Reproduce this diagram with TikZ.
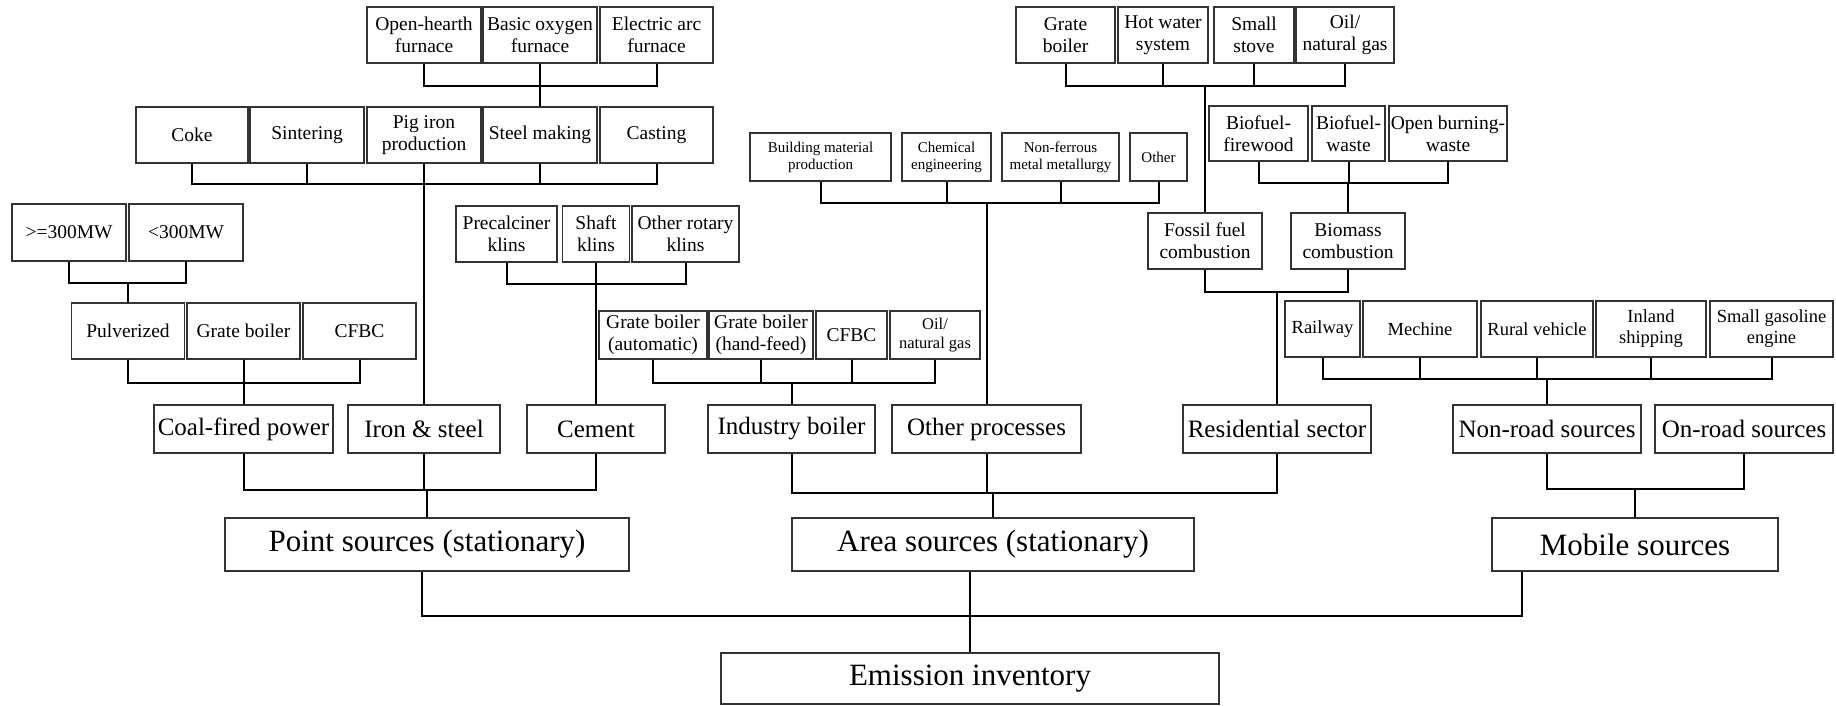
\documentclass[tikz,border=0pt]{standalone}
\usepackage{fontspec}
\setmainfont{Liberation Serif}
\usepackage{tikz}
\tikzset{box/.style={draw=black!80,line width=1.3pt,inner sep=0pt,align=center,fill=white},
 srcbox/.style={box,font=\fontsize{31}{34}\selectfont},
 catbox/.style={box,font=\fontsize{25}{28}\selectfont},
 subbox/.style={box,font=\fontsize{19.5}{22}\selectfont},
 mobbox/.style={box,font=\fontsize{18.5}{21}\selectfont},
 smallbox/.style={box,font=\fontsize{15}{17}\selectfont},
 link/.style={draw=black,line width=2pt},
 thinlink/.style={draw=black,line width=1.4pt}}

\begin{document}
\begin{tikzpicture}[x=1pt,y=-1pt]
\useasboundingbox (0,0) rectangle (1836,705);
% iron & steel:
 \node[subbox,minimum width=114,minimum height=56] (ohf) at (424,35) {Open-hearth\\furnace};
 \node[subbox,minimum width=114,minimum height=56] (bof) at (540,35) {Basic oxygen\\furnace};
 \node[subbox,minimum width=113,minimum height=56] (eaf) at (656.5,35) {Electric arc\\furnace};
 \node[subbox,minimum width=112,minimum height=56] (coke) at (192,135) {Coke};
 \node[subbox,minimum width=114,minimum height=56] (sinter) at (307,135) {Sintering};
 \node[subbox,minimum width=114,minimum height=56] (pigiron) at (424,135) {Pig iron\\production};
 \node[subbox,minimum width=114,minimum height=56] (steel) at (540,135) {Steel making};
 \node[subbox,minimum width=113,minimum height=56] (casting) at (656.5,135) {Casting};
% coal-fired power:
 \node[subbox,minimum width=114,minimum height=57] (mwa) at (69,232.5) {>=300MW};
 \node[subbox,minimum width=114,minimum height=57] (mwb) at (186,232.5) {<300MW};
 \node[subbox,minimum width=113,minimum height=56] (pulv) at (128,331) {Pulverized};
 \node[subbox,minimum width=113,minimum height=56] (grate) at (243.5,331) {Grate boiler};
 \node[subbox,minimum width=113,minimum height=56] (cfbc) at (359.5,331) {CFBC};
% cement:
 \node[subbox,minimum width=101,minimum height=56] (precal) at (506.5,234) {Precalciner\\klins};
 \node[subbox,minimum width=67,minimum height=56] (shaft) at (596,234) {Shaft\\klins};
 \node[subbox,minimum width=107,minimum height=56] (rotary) at (685.5,234) {Other rotary\\klins};
% industry boiler:
 \node[subbox,minimum width=108,minimum height=48] (gbauto) at (653,335) {Grate boiler\\(automatic)};
 \node[subbox,minimum width=104,minimum height=48] (gbhand) at (761,335) {Grate boiler\\(hand-feed)};
 \node[subbox,minimum width=71,minimum height=48] (icfbc) at (851.5,335) {CFBC};
 \node[box,font=\fontsize{16.5}{19}\selectfont,minimum width=90,minimum height=48] (ioil) at (935,335) {Oil/\\natural gas};
% other processes:
 \node[smallbox,minimum width=141,minimum height=48] (bmp) at (820.5,157) {Building material\\production};
 \node[smallbox,minimum width=89,minimum height=48] (chem) at (946.5,157) {Chemical\\engineering};
 \node[smallbox,minimum width=117,minimum height=48] (nonfer) at (1060.5,157) {Non-ferrous\\metal metallurgy};
 \node[smallbox,minimum width=57,minimum height=48] (oth) at (1158.5,157) {Other};
% residential:
 \node[subbox,minimum width=99,minimum height=56] (rgrate) at (1065.5,35) {Grate\\boiler};
 \node[subbox,minimum width=90,minimum height=56] (hotw) at (1163,35) {Hot water\\system};
 \node[subbox,minimum width=80,minimum height=56] (stove) at (1254,35) {Small\\stove};
 \node[subbox,minimum width=98,minimum height=56] (roil) at (1345,35) {Oil/\\natural gas};
 \node[subbox,minimum width=99,minimum height=55] (bfw) at (1258.5,133.5) {Biofuel-\\firewood};
 \node[subbox,minimum width=73,minimum height=55] (bws) at (1348.5,133.5) {Biofuel-\\waste};
 \node[subbox,minimum width=118,minimum height=55] (obw) at (1448,133.5) {Open burning-\\waste};
 \node[subbox,minimum width=114,minimum height=56] (fossil) at (1205,241) {Fossil fuel\\combustion};
 \node[subbox,minimum width=114,minimum height=56] (biomass) at (1348,241) {Biomass\\combustion};
% non-road:
 \node[mobbox,minimum width=75,minimum height=56] (rail) at (1322.5,329) {Railway};
 \node[mobbox,minimum width=114,minimum height=56] (mech) at (1420,329) {Mechine};
 \node[mobbox,minimum width=112,minimum height=56] (rural) at (1537,329) {Rural vehicle};
 \node[mobbox,minimum width=110,minimum height=56] (inland) at (1651,329) {Inland\\shipping};
 \node[mobbox,minimum width=123,minimum height=56] (smallgas) at (1771.5,329) {Small gasoline\\engine};
% sectors:
 \node[catbox,minimum width=179,minimum height=48] (coal) at (243.5,429) {Coal-fired power};
 \node[catbox,minimum width=152,minimum height=48] (iron) at (424,429) {Iron \& steel};
 \node[catbox,minimum width=138,minimum height=48] (cement) at (596,429) {Cement};
 \node[catbox,minimum width=167,minimum height=48] (indb) at (791.5,429) {Industry boiler};
 \node[catbox,minimum width=189,minimum height=48] (othp) at (986.5,429) {Other processes};
 \node[catbox,minimum width=188,minimum height=48] (resid) at (1277,429) {Residential sector};
 \node[catbox,minimum width=188,minimum height=48] (nonroad) at (1547,429) {Non-road sources};
 \node[catbox,minimum width=178,minimum height=48] (onroad) at (1744,429) {On-road sources};
% sources:
 \node[srcbox,minimum width=404,minimum height=53] (point) at (427,544.5) {Point sources (stationary)};
 \node[srcbox,minimum width=402,minimum height=53] (area) at (993,544.5) {Area sources (stationary)};
 \node[srcbox,minimum width=286,minimum height=53] (mobile) at (1635,544.5) {Mobile sources};
 \node[srcbox,minimum width=498,minimum height=51] (emis) at (970,678.5) {Emission inventory};
%% junctions:
 \coordinate (jfur) at (540,86);
 \coordinate (jiron) at (424,184);
 \coordinate (jmw) at (128,283);
 \coordinate (jpow) at (243.5,383);
 \coordinate (jcem) at (596,284);
 \coordinate (jind) at (791.5,383);
 \coordinate (joth) at (986.5,203);
 \coordinate (jfos) at (1205,86);
 \coordinate (jbio) at (1348,183);
 \coordinate (jres) at (1277,292);
 \coordinate (jnon) at (1547,379);
 \coordinate (jmob) at (1635,489);
 \coordinate (jpt) at (427,490);
 \coordinate (jar) at (993,493);
 \coordinate (jem) at (970,616);
%% links:
 \foreach \c in {ohf,bof,eaf} \draw[link] (\c.south) |- (jfur);
 \draw[link] (jfur) -- (steel.north);
 \foreach \c in {coke,sinter,pigiron,steel,casting} \draw[link] (\c.south) |- (jiron);
 \draw[link] (jiron) -- (iron.north);
 \foreach \c in {mwa,mwb} \draw[link] (\c.south) |- (jmw);
 \draw[link] (jmw) -- (pulv.north);
 \foreach \c in {pulv,grate,cfbc} \draw[link] (\c.south) |- (jpow);
 \draw[link] (jpow) -- (coal.north);
 \foreach \c in {precal,shaft,rotary} \draw[link] (\c.south) |- (jcem);
 \draw[link] (jcem) -- (cement.north);
 \foreach \c in {gbauto,gbhand,icfbc,ioil} \draw[link] (\c.south) |- (jind);
 \draw[link] (jind) -- (indb.north);
 \foreach \c in {bmp,chem,nonfer,oth} \draw[link] (\c.south) |- (joth);
 \draw[link] (joth) -- (othp.north);
 \foreach \c in {rgrate,hotw,stove,roil} \draw[link] (\c.south) |- (jfos);
 \draw[link] (jfos) -- (fossil.north);
 \foreach \c in {bfw,bws,obw} \draw[link] (\c.south) |- (jbio);
 \draw[link] (jbio) -- (biomass.north);
 \foreach \c in {fossil,biomass} \draw[link] (\c.south) |- (jres);
 \draw[link] (jres) -- (resid.north);
 \foreach \c in {rail,mech,rural,inland,smallgas} \draw[link] (\c.south) |- (jnon);
 \draw[link] (jnon) -- (nonroad.north);
 \foreach \c in {nonroad,onroad} \draw[link] (\c.south) |- (jmob);
 \draw[link] (jmob) -- (mobile.north);
 \foreach \c in {coal,iron,cement} \draw[link] (\c.south) |- (jpt);
 \draw[link] (jpt) -- (point.north);
 \foreach \c in {indb,othp,resid} \draw[link] (\c.south) |- (jar);
 \draw[link] (jar) -- (area.north);
% to the inventory:
 \draw[thinlink] ([xshift=-5]point.south) |- (jem);
 \draw[thinlink] ([xshift=-23]area.south) -- (jem);
 \draw[thinlink] ([xshift=-113]mobile.south) |- (jem);
 \draw[thinlink] (jem) -- (emis.north);
\end{tikzpicture}
\end{document}
